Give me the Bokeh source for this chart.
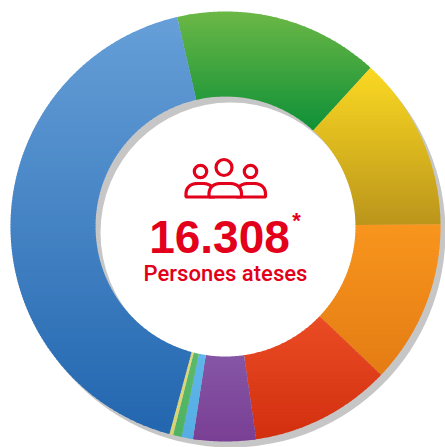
import numpy as np
from bokeh.plotting import figure
from bokeh.models import Range1d
from bokeh.core.properties import value
from bokeh.embed import file_html
from bokeh.resources import INLINE

# share of people per slice (%), clockwise from the top-left boundary
categories = ["verd", "groc", "taronja", "vermell", "lila", "blau clar", "verd clar", "groc clar", "blau"]
shares = [15.4, 13.05, 12.3, 10.6, 4.7, 0.85, 0.65, 0.28, 42.2]
top_colors = ["#6cb746", "#fbd922", "#f8951d", "#ea4c24", "#8656a6", "#5fb6ea", "#5cb96c", "#dcd97e", "#669fd8"]
bottom_colors = ["#0e9037", "#bb951b", "#e47c14", "#d22f0f", "#793f94", "#55ade4", "#4eb263", "#d6d274", "#2266af"]
total_label = "16.308"
total_mark = "*"
caption = "Persones ateses"

RED = "#e2001a"
CX, CY, R_OUT, R_IN = 225.0, 226.0, 215.0, 130.0
START_DEG = 347.0
SHADOW = (5.0, 6.0)
BAND = 3.0


def hex2rgb(h):
    return np.array([int(h[i:i + 2], 16) for i in (1, 3, 5)], dtype=float)


def mix(a, b, t):
    c = hex2rgb(a) * (1 - t) + hex2rgb(b) * t
    return "#%02x%02x%02x" % tuple(int(round(v)) for v in c)


def clip(pts, y0, keep_below):
    """Clip a polygon against a horizontal line."""
    out = []
    inside = (lambda p: p[1] >= y0) if keep_below else (lambda p: p[1] <= y0)
    for i in range(len(pts)):
        a, b = pts[i], pts[(i + 1) % len(pts)]
        ia, ib = inside(a), inside(b)
        if ia:
            out.append(a)
        if ia != ib:
            t = (y0 - a[1]) / (b[1] - a[1])
            out.append((a[0] + (b[0] - a[0]) * t, y0))
    return out


p = figure(width=445, height=447, output_backend="svg", toolbar_location=None,
           x_range=Range1d(0, 445), y_range=Range1d(447, 0),
           min_border=0, outline_line_color=None)
p.axis.visible = False
p.grid.visible = False
p.background_fill_color = "white"
p.border_fill_color = "white"

# drop shadow of the ring
p.annulus(x=[CX + SHADOW[0]], y=[CY + SHADOW[1]], inner_radius=R_IN, outer_radius=R_OUT,
          fill_color="#c6c6c6", line_color=None)

xs, ys, cols = [], [], []
angle = START_DEG
frac = 360.0 / sum(shares)
for share, c0, c1 in zip(shares, top_colors, bottom_colors):
    span = share * frac
    th = np.radians(np.linspace(angle, angle + span, max(4, int(span * 3))))
    outer = [(CX + R_OUT * np.sin(t), CY - R_OUT * np.cos(t)) for t in th]
    inner = [(CX + R_IN * np.sin(t), CY - R_IN * np.cos(t)) for t in th[::-1]]
    poly = outer + inner
    y_all = [q[1] for q in poly]
    ymin, ymax = min(y_all), max(y_all)
    y = ymin
    while y < ymax:
        y1 = min(y + BAND, ymax)
        # bands overlap a little so no seam shows between them; no stroke
        piece = clip(clip(poly, y, True), min(y1 + 0.8, ymax), False)
        if len(piece) >= 3:
            xs.append([q[0] for q in piece])
            ys.append([q[1] for q in piece])
            cols.append(mix(c0, c1, ((y + y1) / 2 - ymin) / (ymax - ymin)))
        y = y1
    angle += span
p.patches(xs, ys, fill_color=cols, line_color=None)

# people icon
heads_x, heads_y, heads_r = [200, 223.5, 250], [171, 167, 171], [6.2, 8.0, 6.2]
p.circle(x=heads_x, y=heads_y, radius=heads_r, fill_color=None, line_color=RED, line_width=3.2)


def curve(x0, y0, cx0, cy0, cx1, cy1, x1, y1, n=14):
    t = np.linspace(0, 1, n)
    return (list((1 - t) ** 3 * x0 + 3 * (1 - t) ** 2 * t * cx0 + 3 * (1 - t) * t ** 2 * cx1 + t ** 3 * x1),
            list((1 - t) ** 3 * y0 + 3 * (1 - t) ** 2 * t * cy0 + 3 * (1 - t) * t ** 2 * cy1 + t ** 3 * y1))


def body(xa, xb, ytop, ybot):
    lx, ly = curve(xa, ybot - 3, xa, ytop + 3, xa + 6, ytop, xa + 11, ytop)
    rx, ry = curve(xb - 11, ytop, xb - 6, ytop, xb, ytop + 3, xb, ybot - 3)
    return [xa] + lx + rx + [xb, xa, xa], [ybot] + ly + ry + [ybot, ybot, ybot - 3]


lb = body(185.5, 214, 183, 196.5)
rb = body(236, 265, 183, 196.5)
mb = body(208.5, 241, 183, 196.5)
p.line(lb[0], lb[1], line_color=RED, line_width=3.2)
p.line(rb[0], rb[1], line_color=RED, line_width=3.2)
p.patch(mb[0], mb[1], fill_color="white", line_color=RED, line_width=3.2)

# centre texts
p.text(x=[219], y=[236], text=[total_label], text_font=value("Liberation Sans"), text_font_style="bold",
       text_font_size="46px", text_color=RED, text_align="center", text_baseline="alphabetic")
p.text(x=[296], y=[220], text=[total_mark], text_font=value("Liberation Sans"), text_font_style="bold",
       text_font_size="22px", text_color=RED, text_align="center", text_baseline="alphabetic")
p.text(x=[225], y=[273], text=[caption], text_font=value("Roboto Medium"),
       text_font_size="22px", text_color=RED, text_align="center", text_baseline="alphabetic")

open("out.html", "w").write(file_html(p, INLINE))
